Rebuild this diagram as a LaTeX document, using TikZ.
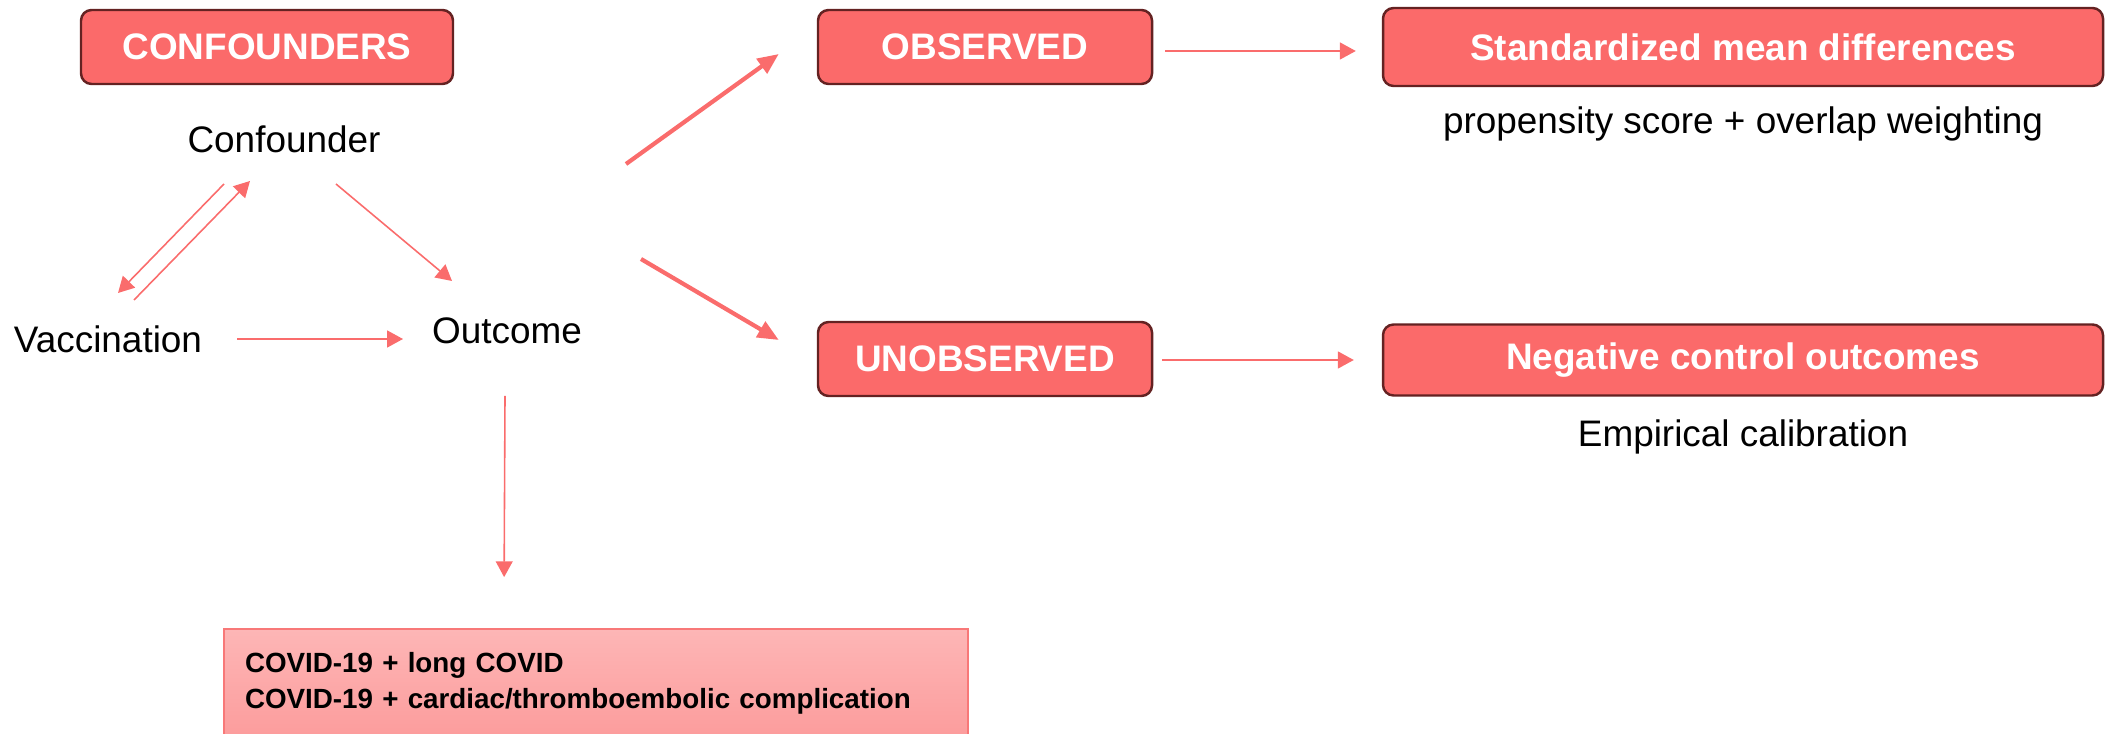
\documentclass[tikz,border=0pt]{standalone}
\usepackage{fontspec}
\setmainfont{Liberation Sans}
\usetikzlibrary{positioning,arrows.meta,calc}
\definecolor{boxred}{RGB}{251,106,106}
\definecolor{boxedge}{RGB}{100,34,34}
\definecolor{arrowred}{RGB}{250,108,108}
\definecolor{pinktop}{RGB}{253,182,182}
\definecolor{pinkbot}{RGB}{252,156,156}
\definecolor{pinkedge}{RGB}{248,120,120}

\begin{document}
\begin{tikzpicture}[
font=\fontsize{10.5}{12.6}\selectfont,
head/.style={rectangle,rounded corners=3pt,draw=boxedge,line width=0.7pt,fill=boxred,text=white,font=\fontsize{10.5}{12.6}\selectfont\bfseries,minimum height=0.74cm},
plain/.style={inner sep=0pt},
arr/.style={draw=arrowred,line width=0.45pt,-{Triangle[length=4.5pt,width=4.8pt]}},
bigarr/.style={draw=arrowred,line width=1.2pt,-{Triangle[length=6pt,width=5pt]}}
]
\useasboundingbox (0,0) rectangle (21.08,-7.34);

\node[head,minimum width=3.72cm] (confs) at (2.67,-0.47) {CONFOUNDERS};
\node[plain] (conf) at (2.84,-1.39) {Confounder};
\node[plain] (vacc) at (1.08,-3.39) {Vaccination};
\node[plain] (outc) at (5.07,-3.31) {Outcome};

\node[rectangle,draw=pinkedge,line width=0.5pt,top color=pinktop,bottom color=pinkbot,
  text width=7.02cm,inner xsep=0.21cm,minimum height=1.09cm,align=left,
  font=\fontsize{7.9}{10.3}\selectfont\bfseries] (covid) at (5.96,-6.835)
  {COVID-19 + long COVID\\COVID-19 + cardiac/thromboembolic complication};

\node[head,minimum width=3.34cm] (obs) at (9.85,-0.47) {OBSERVED};
\node[head,minimum width=3.34cm] (unobs) at (9.85,-3.59) {UNOBSERVED};
\node[head,minimum width=7.20cm,minimum height=0.78cm] (smd) at (17.43,-0.47) {Standardized mean differences};
\node[head,minimum width=7.20cm,minimum height=0.71cm] (nco) at (17.43,-3.60) {Negative control outcomes};
\node[plain,below=0.19cm of smd] (ps) {propensity score + overlap weighting};
\node[plain,below=0.22cm of nco] (cal) {Empirical calibration};

\coordinate (fork1) at (6.26,-1.64);
\coordinate (fork2) at (6.41,-2.59);

\draw[arr] ($(conf)+(-0.60,-0.45)$) -- ($(vacc)+(0.10,0.46)$);
\draw[arr] ($(vacc)+(0.26,0.39)$) -- ($(conf)+(-0.34,-0.42)$);
\draw[arr] ($(conf)+(0.52,-0.45)$) -- ($(outc)+(-0.55,0.50)$);
\draw[arr] ($(vacc)+(1.29,0)$) -- ($(outc)+(-1.04,-0.08)$);
\draw[arr] ($(outc)+(-0.02,-0.65)$) -- ($(covid.north west)+(2.81,0.51)$);

\draw[bigarr] (fork1) -- ($(obs.west)+(-0.38,-0.07)$);
\draw[bigarr] (fork2) -- ($(unobs.west)+(-0.38,0.19)$);

\draw[arr,shorten <=0.12cm,shorten >=0.26cm] ($(obs.east)+(0,-0.04)$) -- ($(obs.east -| smd.west)+(0,-0.04)$);
\draw[arr,shorten <=0.09cm,shorten >=0.28cm] ($(unobs.east)+(0,-0.01)$) -- ($(unobs.east -| nco.west)+(0,-0.01)$);
\end{tikzpicture}
\end{document}
